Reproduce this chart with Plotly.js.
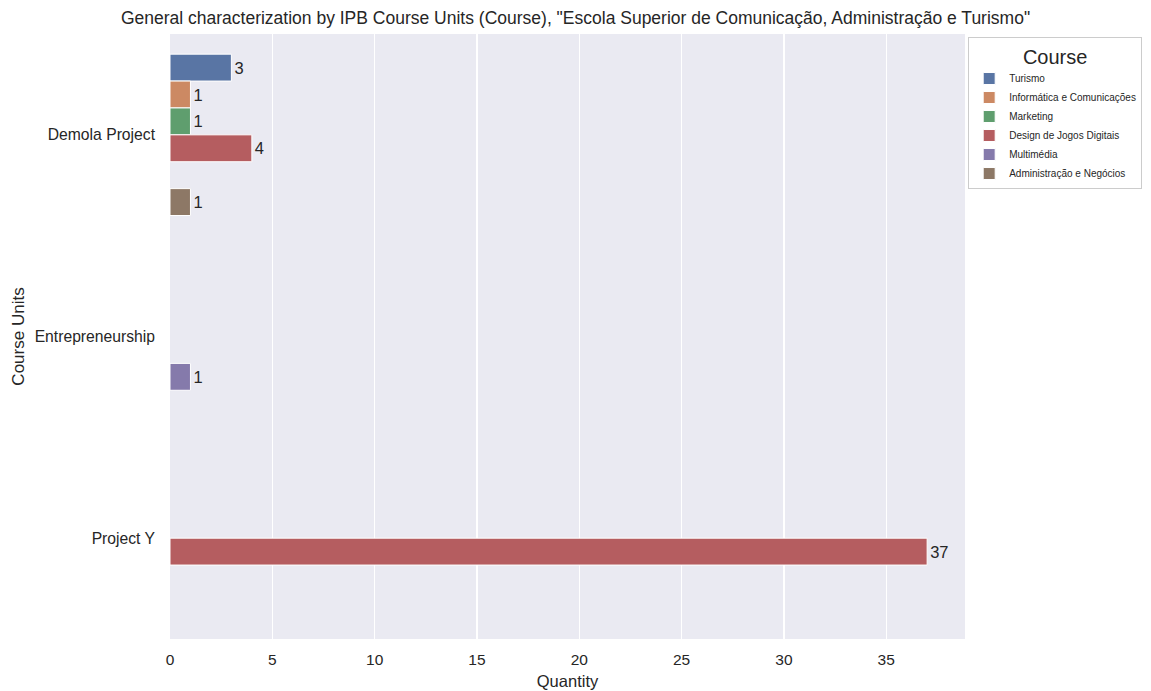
<!DOCTYPE html>
<html>
<head>
<meta charset="utf-8">
<script src="https://cdn.plot.ly/plotly-3.0.1.min.js"></script>
<style>html,body{margin:0;padding:0;background:#fff;}#chart{width:1151px;height:691px;}</style>
</head>
<body>
<div id="chart"></div>
<script>
const courseUnits = ["Demola Project", "Entrepreneurship", "Project Y"];
const courses = ["Turismo", "Informática e Comunicações", "Marketing", "Design de Jogos Digitais", "Multimédia", "Administração e Negócios"];
const turismo = [3, null, null];
const informatica = [1, null, null];
const marketing = [1, null, null];
const designJogos = [4, null, 37];
const multimedia = [null, 1, null];
const administracao = [1, null, null];
const seriesValues = [turismo, informatica, marketing, designJogos, multimedia, administracao];
const colors = ["#5975a4", "#cc8963", "#5f9e6e", "#b55d60", "#857aab", "#8d7866"];
const xTicks = [0, 5, 10, 15, 20, 25, 30, 35];

const FONT = "Liberation Sans, Arial, sans-serif";
const TXT = "#262626";

const traces = courses.map((c, i) => ({
  type: "bar",
  orientation: "h",
  name: c,
  y: courseUnits,
  x: seriesValues[i],
  marker: {color: colors[i], line: {color: "#ffffff", width: 1}},
  text: seriesValues[i].map(v => v === null ? "" : String(v)),
  textposition: "outside",
  cliponaxis: false,
  textfont: {family: FONT, size: 16.5, color: TXT},
  hoverinfo: "x+y+name"
}));

const layout = {
  width: 1151, height: 691,
  margin: {l: 170, r: 186, t: 34, b: 52, autoexpand: false},
  paper_bgcolor: "#ffffff",
  plot_bgcolor: "#eaeaf2",
  font: {family: FONT, color: TXT, size: 15},
  barmode: "group",
  bargap: 0.2,
  bargroupgap: 0,
  title: {text: 'General characterization by IPB Course Units (Course), "Escola Superior de Comunicação, Administração e Turismo"',
          font: {family: FONT, size: 17.5, color: TXT}, x: 0.5, xref: "container", xanchor: "center", y: 0.974, yanchor: "middle"},
  xaxis: {
    range: [0, 38.85], tickvals: xTicks, ticktext: xTicks.map(String),
    showgrid: true, gridcolor: "#ffffff", gridwidth: 1.3, zeroline: false,
    showline: false, ticks: "", tickfont: {size: 15.5, color: TXT}, ticklen: 0,
    ticklabelstandoff: 9,
    title: {text: "Quantity", font: {size: 16.5, color: TXT}, standoff: 8}
  },
  yaxis: {
    type: "category", autorange: "reversed",
    showgrid: false, zeroline: false, showline: false, ticks: "",
    tickfont: {size: 15.7, color: TXT}, ticklabelstandoff: 14,
    title: {text: "Course Units", font: {size: 17, color: TXT}, standoff: 5}
  },
  legend: {
    x: 1.004, y: 0.995, xanchor: "left", yanchor: "top",
    bgcolor: "rgba(255,255,255,0.85)", bordercolor: "#cccccc", borderwidth: 1,
    font: {size: 10, color: TXT},
    title: {text: "Course", side: "top center", font: {size: 20, color: TXT}},
    traceorder: "normal", itemwidth: 30
  },
  showlegend: true
};

Plotly.newPlot("chart", traces, layout, {displayModeBar: false, staticPlot: true});
</script>
</body>
</html>
